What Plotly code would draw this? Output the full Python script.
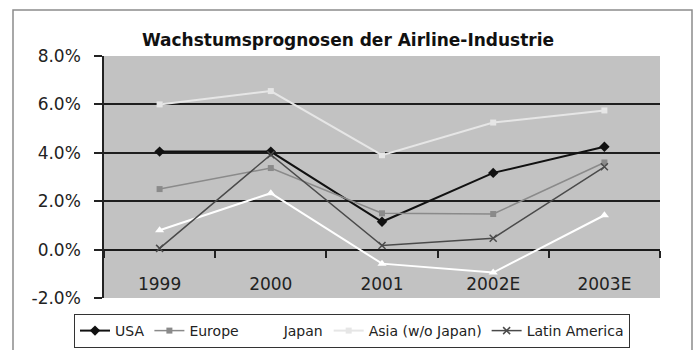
import plotly.graph_objects as go

categories = ["1999", "2000", "2001", "2002E", "2003E"]
usa = [4.05, 4.05, 1.15, 3.17, 4.25]
europe = [2.5, 3.37, 1.5, 1.47, 3.6]
japan = [0.8, 2.33, -0.58, -0.95, 1.42]
asia = [6.0, 6.55, 3.9, 5.25, 5.75]
latam = [0.05, 3.92, 0.17, 0.47, 3.42]
y_ticks = [-2, 0, 2, 4, 6, 8]
y_tick_labels = ["-2.0%", "0.0%", "2.0%", "4.0%", "6.0%", "8.0%"]
grid_ticks = [2, 4, 6]

FONT = "DejaVu Sans, Arial, sans-serif"

series = [
    ("USA", usa, "#111111", 2, dict(symbol="diamond", size=8, color="#111111")),
    ("Europe", europe, "#8a8a8a", 1.5, dict(symbol="square", size=6, color="#8a8a8a")),
    ("Japan", japan, "#ffffff", 2, dict(symbol="triangle-up", size=8, color="#ffffff")),
    ("Asia (w/o Japan)", asia, "#e6e6e6", 2, dict(symbol="square", size=6, color="#e6e6e6")),
    ("Latin America", latam, "#4a4a4a", 1.5,
     dict(symbol="x-thin", size=7, color="#4a4a4a", line=dict(width=1.5, color="#4a4a4a"))),
]

fig = go.Figure()
for name, vals, col, w, mk in series:
    fig.add_trace(go.Scatter(
        x=categories, y=vals, name=name, mode="lines+markers",
        line=dict(color=col, width=w), marker=mk, xaxis="x", yaxis="y"))

fig.update_layout(
    width=697, height=350,
    margin=dict(l=104, r=37, t=56, b=52, autoexpand=False),
    paper_bgcolor="white",
    plot_bgcolor="#c2c2c2",
    font=dict(family=FONT, color="#222222"),
    title=dict(text="<b>Wachstumsprognosen der Airline-Industrie</b>",
               x=348 / 697, xanchor="center", y=1 - 40 / 350, yanchor="middle",
               font=dict(size=17, family=FONT, color="#111111")),
    xaxis=dict(type="category", categoryorder="array", categoryarray=categories,
               range=[-0.5, 4.5], anchor="free", position=0.2,
               tickson="boundaries", ticks="outside", ticklen=7, tickwidth=1.5,
               tickcolor="#222222", showline=False, showgrid=False, zeroline=False,
               tickfont=dict(size=17, family=FONT, color="#222222"),
               ticklabelstandoff=22),
    yaxis=dict(range=[-2, 8], tickvals=y_ticks, ticktext=y_tick_labels,
               showgrid=False, zeroline=True, zerolinecolor="#1a1a1a", zerolinewidth=2,
               showline=True, linecolor="#222222", linewidth=1.5,
               ticks="outside", ticklen=8, tickwidth=1.5, tickcolor="#222222",
               tickfont=dict(size=17, family=FONT, color="#222222"),
               ticklabelstandoff=10),
    yaxis2=dict(range=[-2, 8], overlaying="y", tickvals=grid_ticks,
                showgrid=True, gridcolor="#1e1e1e", gridwidth=2,
                showticklabels=False, ticks="", zeroline=False, showline=False),
    showlegend=True,
    legend=dict(orientation="h", xref="container", yref="container",
                x=352 / 697, xanchor="center", y=1 - 314 / 350, yanchor="top",
                bordercolor="#333333", borderwidth=1, bgcolor="white",
                font=dict(size=14, family=FONT, color="#222222"),
                tracegroupgap=0),
    shapes=[dict(type="rect", xref="paper", yref="paper",
                 x0=(13 - 104) / 556, x1=(692 - 104) / 556,
                 y0=-0.5, y1=(298 - 10) / 242,
                 line=dict(color="#8c8c8c", width=1.5), fillcolor="rgba(0,0,0,0)",
                 layer="below")],
)
# empty trace to activate the grid axis
fig.add_trace(go.Scatter(x=[categories[0]], y=[None], yaxis="y2", xaxis="x",
                         showlegend=False, hoverinfo="skip"))

fig.write_html("out.html")
